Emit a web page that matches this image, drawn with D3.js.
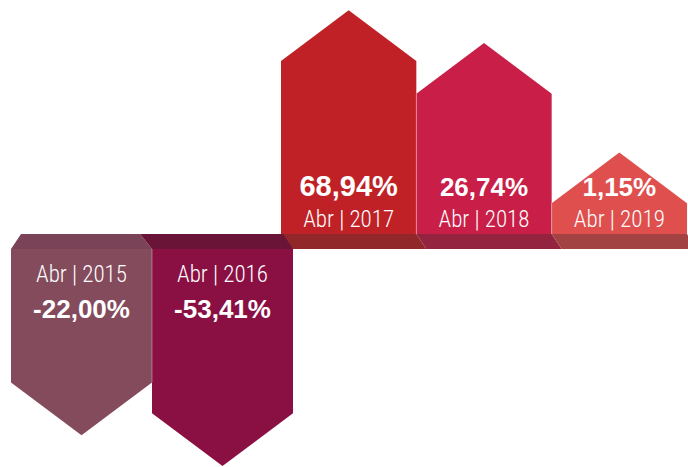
<!DOCTYPE html>
<html>
<head>
<meta charset="utf-8">
<script src="https://cdn.jsdelivr.net/npm/d3@7"></script>
<style>
  html, body { margin: 0; padding: 0; background: #fff; }
  svg { display: block; }
  .pct { font-family: "Liberation Sans", Arial, sans-serif; font-weight: bold; fill: #fff; }
  .lbl { font-family: "Liberation Sans Narrow", "Arial Narrow", "Roboto Condensed", sans-serif; font-stretch: condensed; fill: #fff; }
</style>
</head>
<body>
<svg id="chart" width="688" height="467"></svg>
<script>
// data
const years = ['2015', '2016', '2017', '2018', '2019'];
const values = [-22.00, -53.41, 68.94, 26.74, 1.15];
const month = 'Abr';

// palette (bar face / base band)
const barColors = ['#834b5c', '#8a1044', '#c02126', '#c81e47', '#de4f4e'];
const bandColors = ['#7b4357', '#6a1438', '#922729', '#94233f', '#a24243'];

const drawChart = () => {
    const svg = d3.select('#chart');
    const bandTop = 234;
    const bandBot = 249;
    const skew = 10;
    const headRatio = 0.75;

    const data = years.map((y, i) => ({ year: y, value: values[i], bar: barColors[i], band: bandColors[i] }));
    const neg = data.filter(d => d.value < 0);
    const pos = data.filter(d => d.value >= 0);

    // two groups: falls on the left, rises on the right
    const xNeg = d3.scaleBand().domain(neg.map(d => d.year)).range([11, 293]);
    const xPos = d3.scaleBand().domain(pos.map(d => d.year)).range([281, 687]);

    // body length on a log scale of the absolute change
    const h = d3.scaleLog().domain([1, 100]).range([26, 186]);

    const locale = d3.formatLocale({ decimal: ',', thousands: '.', grouping: [3], currency: ['R$', ''], minus: '-' });
    const fmt = locale.format('.2f');
    const maxVal = d3.max(values);

    // base bands
    svg.append('g').selectAll('path')
        .data(pos)
        .join('path')
        .attr('fill', d => d.band)
        .attr('d', d => {
            const x0 = xPos(d.year), x1 = x0 + xPos.bandwidth();
            return `M${x0},${bandTop}L${x1},${bandTop}L${x1 + skew},${bandBot}L${x0 + skew},${bandBot}Z`;
        });

    svg.append('g').selectAll('path')
        .data(neg)
        .join('path')
        .attr('fill', d => d.band)
        .attr('d', (d, i) => {
            const x0 = xNeg(d.year), x1 = x0 + xNeg.bandwidth();
            const l = i === 0 ? x0 + skew : x0 - 12;
            const r = i === neg.length - 1 ? x1 - skew : x1 - 12;
            return `M${x0},${bandBot}L${l},${bandTop}L${r},${bandTop}L${x1},${bandBot}Z`;
        });

    // rising arrows
    svg.append('g').selectAll('path')
        .data(pos)
        .join('path')
        .attr('fill', d => d.bar)
        .attr('d', d => {
            const x0 = xPos(d.year), w = xPos.bandwidth(), x1 = x0 + w;
            const top = bandTop - h(d.value);
            const apex = top - headRatio * w / 2;
            return `M${x0},${bandTop}L${x0},${top}L${x0 + w / 2},${apex}L${x1},${top}L${x1},${bandTop}Z`;
        });

    // falling arrows
    svg.append('g').selectAll('path')
        .data(neg)
        .join('path')
        .attr('fill', d => d.bar)
        .attr('d', d => {
            const x0 = xNeg(d.year), w = xNeg.bandwidth(), x1 = x0 + w;
            const bot = bandBot + h(-d.value);
            const tip = bot + headRatio * w / 2;
            return `M${x0},${bandBot}L${x0},${bot}L${x0 + w / 2},${tip}L${x1},${bot}L${x1},${bandBot}Z`;
        });

    // thin light seams between neighbouring arrows
    const seams = svg.append('g').attr('stroke', '#ffffff').attr('stroke-opacity', 0.35).attr('stroke-width', 1);
    pos.slice(1).forEach((d, i) => {
        const x = xPos(d.year);
        const y = bandTop - Math.min(h(d.value), h(pos[i].value));
        seams.append('line').attr('x1', x).attr('x2', x).attr('y1', bandTop).attr('y2', y);
    });
    neg.slice(1).forEach((d, i) => {
        const x = xNeg(d.year);
        const y = bandBot + Math.min(h(-d.value), h(-neg[i].value));
        seams.append('line').attr('x1', x).attr('x2', x).attr('y1', bandBot).attr('y2', y);
    });

    // labels
    const posText = svg.append('g').selectAll('g').data(pos).join('g')
        .attr('transform', d => `translate(${xPos(d.year) + xPos.bandwidth() / 2},0)`);
    posText.append('text')
        .attr('class', 'pct')
        .attr('text-anchor', 'middle')
        .attr('y', bandTop - 38)
        .attr('font-size', d => d.value === maxVal ? 29 : 26)
        .text(d => fmt(d.value) + '%');
    posText.append('text')
        .attr('class', 'lbl')
        .attr('text-anchor', 'middle')
        .attr('y', bandTop - 7)
        .attr('font-size', 23)
        .attr('font-weight', 300)
        .text(d => `${month} | ${d.year}`);

    const negText = svg.append('g').selectAll('g').data(neg).join('g')
        .attr('transform', d => `translate(${xNeg(d.year) + xNeg.bandwidth() / 2},0)`);
    negText.append('text')
        .attr('class', 'lbl')
        .attr('text-anchor', 'middle')
        .attr('y', bandBot + 33)
        .attr('font-size', 23)
        .attr('font-weight', 300)
        .text(d => `${month} | ${d.year}`);
    negText.append('text')
        .attr('class', 'pct')
        .attr('text-anchor', 'middle')
        .attr('y', bandBot + 69)
        .attr('font-size', 26)
        .text(d => fmt(d.value) + '%');
};

drawChart();
</script>
</body>
</html>
